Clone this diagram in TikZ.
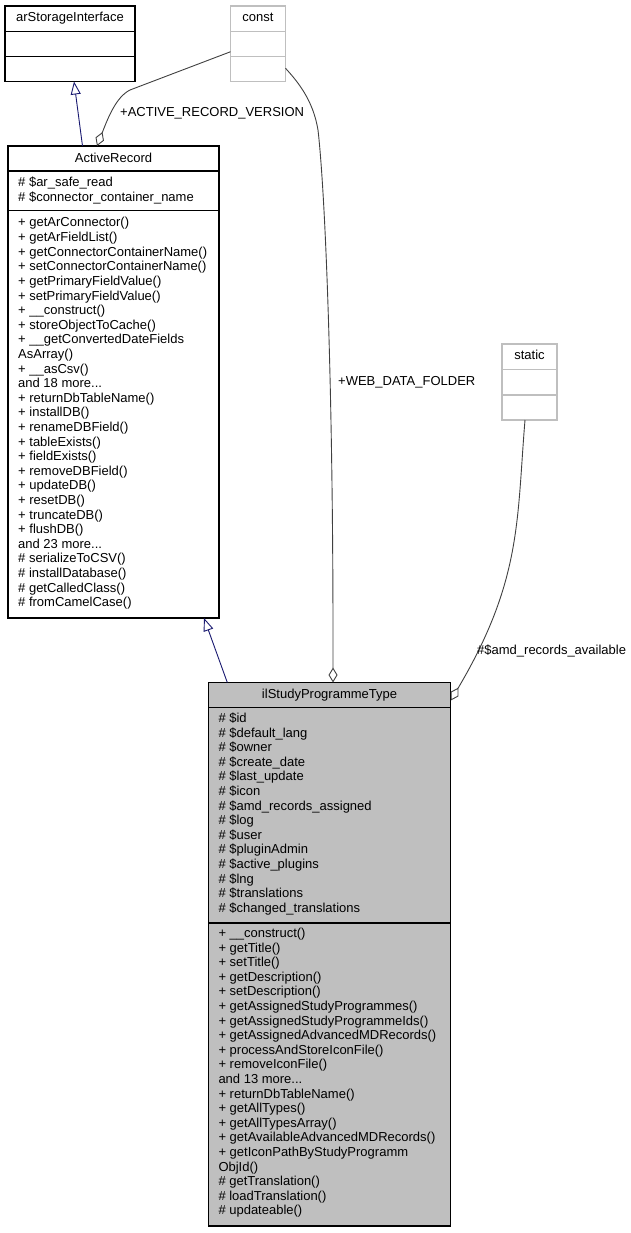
\documentclass[tikz,border=0pt]{standalone}
\usepackage{fontspec}
\setmainfont{Liberation Sans}
\usetikzlibrary{arrows.meta}

\definecolor{edgegray}{HTML}{404040}
\definecolor{boxgray}{HTML}{BFBFBF}
\definecolor{inhblue}{HTML}{191970}
\newcommand{\umlfont}{\fontsize{13}{14.6}\selectfont}
\newcommand{\andmore}[1]{and #1 more...}

\begin{document}
\begin{tikzpicture}[x=1pt,y=-1pt,font=\umlfont,
  classbox/.style={draw=black,line width=1.2pt,fill=white,anchor=north west,inner sep=0pt,outer sep=0pt},
  hiddenbox/.style={classbox,draw=boxgray},
  member/.style={anchor=base west,inner sep=0pt},
  title/.style={anchor=base,inner sep=0pt},
  inherit/.style={draw=inhblue,line width=0.9pt,-{Triangle[open,length=13pt,width=10pt]}},
  aggr/.style={draw=edgegray,line width=0.9pt,{Diamond[open,fill=white,length=15pt,width=9pt]}-}]
  \useasboundingbox (0,0) rectangle (630,1233);

  % class boxes
  \node[classbox,minimum width=130pt,minimum height=75.5pt] (asi) at (5,6) {};
  \node[hiddenbox,minimum width=55pt,minimum height=75.5pt] (const) at (230.5,6) {};
  \node[hiddenbox,minimum width=55pt,minimum height=76pt] (static) at (502,344) {};
  \node[classbox,minimum width=211pt,minimum height=472pt] (ar) at (8,146) {};
  \node[classbox,fill=boxgray,minimum width=242.5pt,minimum height=543.5pt] (spt) at (208.3,682.5) {};

  % compartments
  \draw[line width=1.2pt] ([yshift=-25.5pt]asi.north west) -- ([yshift=-25.5pt]asi.north east)
    ([yshift=-50.5pt]asi.north west) -- ([yshift=-50.5pt]asi.north east);
  \draw[line width=1.2pt,boxgray] ([yshift=-25.5pt]const.north west) -- ([yshift=-25.5pt]const.north east)
    ([yshift=-50.5pt]const.north west) -- ([yshift=-50.5pt]const.north east);
  \draw[line width=1.2pt,boxgray] ([yshift=-25.3pt]static.north west) -- ([yshift=-25.3pt]static.north east)
    ([yshift=-51pt]static.north west) -- ([yshift=-51pt]static.north east);
  \draw[line width=1.2pt] ([yshift=-25pt]ar.north west) -- ([yshift=-25pt]ar.north east)
    ([yshift=-64.5pt]ar.north west) -- ([yshift=-64.5pt]ar.north east);
  \draw[line width=1.2pt] ([yshift=-24.8pt]spt.north west) -- ([yshift=-24.8pt]spt.north east)
    ([yshift=-240.5pt]spt.north west) -- ([yshift=-240.5pt]spt.north east);

  % titles
  \node[title] (asi-t) at ([yshift=-15.7pt]asi.north) {arStorageInterface};
  \node[title] (const-t) at ([yshift=-15.7pt]const.north) {const};
  \node[title] (static-t) at ([yshift=-15.3pt]static.north) {static};
  \node[title] (ar-t) at ([yshift=-16.7pt]ar.north) {ActiveRecord};
  \node[title] (spt-t) at ([yshift=-15.5pt]spt.north) {ilStudyProgrammeType};

  % members of ActiveRecord
  \foreach \m [count=\i] in {\# \$ar\_safe\_read, \# \$connector\_container\_name}
    \node[member] (ar-a\i) at (18,{186.5+14.6*(\i-1)}) {\m};
  \foreach \m [count=\i] in {+ getArConnector(), + getArFieldList(),
      + getConnectorContainerName(), + setConnectorContainerName(),
      + getPrimaryFieldValue(), + setPrimaryFieldValue(), + \_\_construct(),
      + storeObjectToCache(), + \_\_getConvertedDateFields, AsArray(),
      + \_\_asCsv(), {\andmore{18}}, + returnDbTableName(), + installDB(),
      + renameDBField(), + tableExists(), + fieldExists(), + removeDBField(),
      + updateDB(), + resetDB(), + truncateDB(), + flushDB(), {\andmore{23}},
      \# serializeToCSV(), \# installDatabase(), \# getCalledClass(),
      \# fromCamelCase()}
    \node[member] (ar-m\i) at (18,{227+14.6*(\i-1)}) {\m};

  % members of ilStudyProgrammeType
  \foreach \m [count=\i] in {\# \$id, \# \$default\_lang, \# \$owner,
      \# \$create\_date, \# \$last\_update, \# \$icon,
      \# \$amd\_records\_assigned, \# \$log, \# \$user, \# \$pluginAdmin,
      \# \$active\_plugins, \# \$lng, \# \$translations,
      \# \$changed\_translations}
    \node[member] (spt-a\i) at (218.3,{722.5+14.6*(\i-1)}) {\m};
  \foreach \m [count=\i] in {+ \_\_construct(), + getTitle(), + setTitle(),
      + getDescription(), + setDescription(), + getAssignedStudyProgrammes(),
      + getAssignedStudyProgrammeIds(), + getAssignedAdvancedMDRecords(),
      + processAndStoreIconFile(), + removeIconFile(), {\andmore{13}},
      + returnDbTableName(), + getAllTypes(), + getAllTypesArray(),
      + getAvailableAdvancedMDRecords(), + getIconPathByStudyProgramm,
      ObjId(), \# getTranslation(), \# loadTranslation(), \# updateable()}
    \node[member] (spt-m\i) at (218.3,{937.5+14.6*(\i-1)}) {\m};

  % inheritance
  \draw[inherit] ([xshift=74.5pt]ar.north west) -- ([xshift=69pt]asi.south west);
  \draw[inherit] ([xshift=19pt]spt.north west) -- ([xshift=-15pt]ar.south east);

  % usage
  \draw[aggr] ([xshift=89pt]ar.north west) .. controls (108,118) and (116,97) .. (130,90)
    -- ([yshift=-8pt]const.west);
  \draw[aggr] ([xshift=124.7pt]spt.north west) -- (333,640)
    .. controls (333,400) and (326,200) .. (318,130)
    .. controls (313,100) and (298,82) .. ([yshift=-24.5pt]const.east);
  \draw[aggr] ([yshift=-18pt]spt.north east) .. controls (522,580) and (516.7,520)
    .. ([xshift=-4.5pt]static.south);

  % labels
  \node[member] (ver-l) at (120,117) {+ACTIVE\_RECORD\_VERSION};
  \node[member] (web-l) at (338,385) {+WEB\_DATA\_FOLDER};
  \node[member] (amd-l) at (477,654) {\#\$amd\_records\_available};
\end{tikzpicture}
\end{document}
